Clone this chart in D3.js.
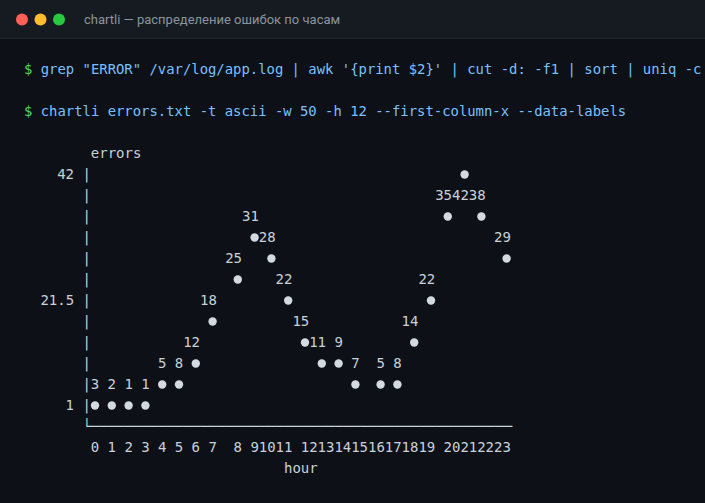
<!DOCTYPE html>
<html>
<head>
<meta charset="utf-8">
<script src="https://cdn.jsdelivr.net/npm/d3@7"></script>
<style>
  html, body { margin: 0; padding: 0; background: #0d1117; overflow: hidden; }
</style>
</head>
<body>
<svg id="term"></svg>
<script>
// errors per hour
const hours = ["0","1","2","3","4","5","6","7","8","9","10","11","12","13","14","15","16","17","18","19","20","21","22","23"];
const errors = [3, 2, 1, 1, 5, 8, 12, 18, 25, 31, 28, 22, 15, 11, 9, 7, 5, 8, 14, 22, 35, 42, 38, 29];
const yTicks = [1, 21.5, 42];
const yLabel = "errors";
const xLabel = "hour";
const title = "chartli — распределение ошибок по часам";
const commands = [
    "grep \"ERROR\" /var/log/app.log | awk '{print $2}' | cut -d: -f1 | sort | uniq -c",
    "chartli errors.txt -t ascii -w 50 -h 12 --first-column-x --data-labels"
];

const width = 705;
const height = 503;
const cols = 50;          // -w 50
const rows = 12;          // -h 12
const cw = 8.4;           // monospace cell width
const lh = 21;            // line height
const left = 90.8;        // x of chart column 0
const firstLine = 69;     // centre of first terminal line
const mono = "'DejaVu Sans Mono', 'Liberation Mono', monospace";
const fg = "#c9d1d9";

const svg = d3.select("#term")
    .attr("width", width)
    .attr("height", height)
    .style("display", "block");

// window chrome
svg.append("rect").attr("width", width).attr("height", height).attr("fill", "#0d1117");
svg.append("rect").attr("width", width).attr("height", 38).attr("fill", "#161b22");
svg.append("line")
    .attr("x1", 0).attr("x2", width).attr("y1", 38.5).attr("y2", 38.5)
    .attr("stroke", "#21262d");
svg.selectAll("circle.light")
    .data(["#ff5f57", "#febc2e", "#28c840"])
    .enter().append("circle")
    .attr("class", "light")
    .attr("cx", (d, i) => 22 + i * 18.5)
    .attr("cy", 19.5)
    .attr("r", 6)
    .attr("fill", d => d);
svg.append("text")
    .attr("x", 84).attr("y", 24)
    .style("font-family", "Roboto, 'Noto Sans', sans-serif")
    .style("font-size", "13px")
    .style("fill", "#8b949e")
    .text(title);

// terminal lines: line index -> y centre
const lineY = i => firstLine + i * lh;

commands.forEach((c, i) => {
    const t = svg.append("text")
        .attr("x", 24).attr("y", lineY(i * 2) + 5)
        .attr("xml:space", "preserve")
        .style("font-family", mono)
        .style("font-size", "13.9px");
    t.append("tspan").style("fill", "#56d364").text("$ ");
    t.append("tspan").style("fill", "#79c0ff").text(c);
});

// scales: value space -> character grid -> pixels
const xCol = d3.scaleLinear().domain([0, hours.length - 1]).range([0, cols - 1]);
const yRow = d3.scaleLinear().domain([d3.min(errors), d3.max(errors)]).range([0, rows - 1]);
const colPx = d3.scaleLinear().domain([0, cols]).range([left, left + cols * cw]);
const rowPx = d3.scaleLinear().domain([0, rows - 1]).range([lineY(16), lineY(5)]);

const chart = svg.append("g")
    .style("font-family", mono)
    .style("font-size", "14px")
    .style("fill", fg);

const cell = (col, row, txt) => chart.append("text")
    .attr("x", colPx(col))
    .attr("y", row + 5)
    .attr("xml:space", "preserve")
    .text(txt);

// y title
cell(0, lineY(4), yLabel);

// y axis bar + tick labels
d3.range(rows).forEach(r => cell(-1, rowPx(r), "|"));
yTicks.forEach(v => {
    const s = String(v);
    cell(-2 - s.length, rowPx(Math.floor(yRow(v))), s);
});

// x axis line
cell(-1, lineY(17), "└" + "─".repeat(cols));

// x tick labels
hours.forEach((h, i) => {
    const start = Math.floor(xCol(i) - (h.length - 1) / 2);
    cell(start, lineY(18), h);
});
cell(Math.floor((cols - xLabel.length) / 2), lineY(19), xLabel);

// points
const pts = errors.map((v, i) => ({
    v: v,
    col: Math.floor(xCol(i)),
    row: Math.floor(yRow(v))
}));

chart.selectAll("circle.pt")
    .data(pts)
    .enter().append("circle")
    .attr("class", "pt")
    .attr("cx", d => colPx(d.col) + cw / 2)
    .attr("cy", d => rowPx(d.row) + 0.5)
    .attr("r", 4.2)
    .attr("fill", "#d4dae1");

// data labels one line above the dot (below if no room)
pts.forEach(d => {
    const s = String(d.v);
    const r = d.row < rows - 1 ? d.row + 1 : d.row - 1;
    cell(d.col - Math.floor(s.length / 2), rowPx(r), s);
});
</script>
</body>
</html>
